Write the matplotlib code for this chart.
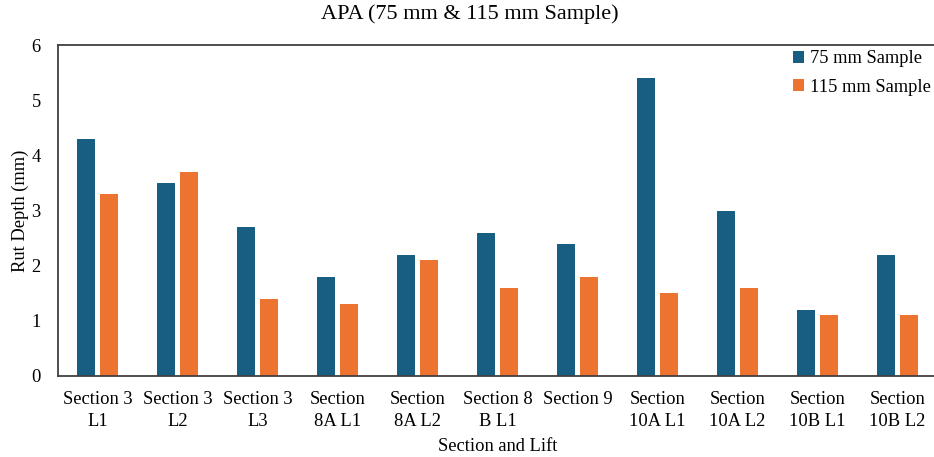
import matplotlib
matplotlib.use("Agg")
import matplotlib.pyplot as plt
import numpy as np

categories = ["Section 3\nL1", "Section 3\nL2", "Section 3\nL3", "Section\n8A L1", "Section\n8A L2",
              "Section 8\nB L1", "Section 9", "Section\n10A L1", "Section\n10A L2", "Section\n10B L1",
              "Section\n10B L2"]
s75 = [4.3, 3.5, 2.7, 1.8, 2.2, 2.6, 2.4, 5.4, 3.0, 1.2, 2.2]
s115 = [3.3, 3.7, 1.4, 1.3, 2.1, 1.6, 1.8, 1.5, 1.6, 1.1, 1.1]

plt.rcParams['font.family'] = ['Liberation Serif', 'DejaVu Serif']

fig = plt.figure(figsize=(9.34, 4.57), dpi=100)
ax = fig.add_axes([57.5/934, 81/457, 880/934, 331/457])

x = np.arange(len(categories))
w = 0.225
off = 0.144
ax.bar(x - off, s75, w, color="#175e82", label="75 mm Sample")
ax.bar(x + off, s115, w, color="#ed7430", label="115 mm Sample")

ax.set_xlim(-0.5, len(categories) - 0.5)
ax.set_ylim(0, 6)
ax.set_yticks(range(0, 7))
ax.set_xticks(x)
ax.set_xticklabels(categories, fontsize=13.3, linespacing=1.38)
ax.tick_params(axis='y', labelsize=13.3, length=0, pad=12)
ax.tick_params(axis='x', length=0, pad=10.5)
for s in ["left", "top", "bottom"]:
    ax.spines[s].set_color("#404040")
    ax.spines[s].set_linewidth(1.3)
ax.spines["right"].set_visible(False)

ax.set_ylabel("Rut Depth (mm)", fontsize=13.3, labelpad=2)
ax.set_xlabel("Section and Lift", fontsize=13.3, labelpad=6)
fig.text(469.5/934, 1 - 14/457, "APA (75 mm & 115 mm Sample)", ha="center", va="center", fontsize=16)

leg = ax.legend(loc="upper right", bbox_to_anchor=(1.003, 1.012), frameon=False, fontsize=13.3,
                handlelength=0.6, handleheight=0.6, handletextpad=0.3, labelspacing=0.62,
                borderaxespad=0.1)

fig.savefig("out.png", dpi=100)
